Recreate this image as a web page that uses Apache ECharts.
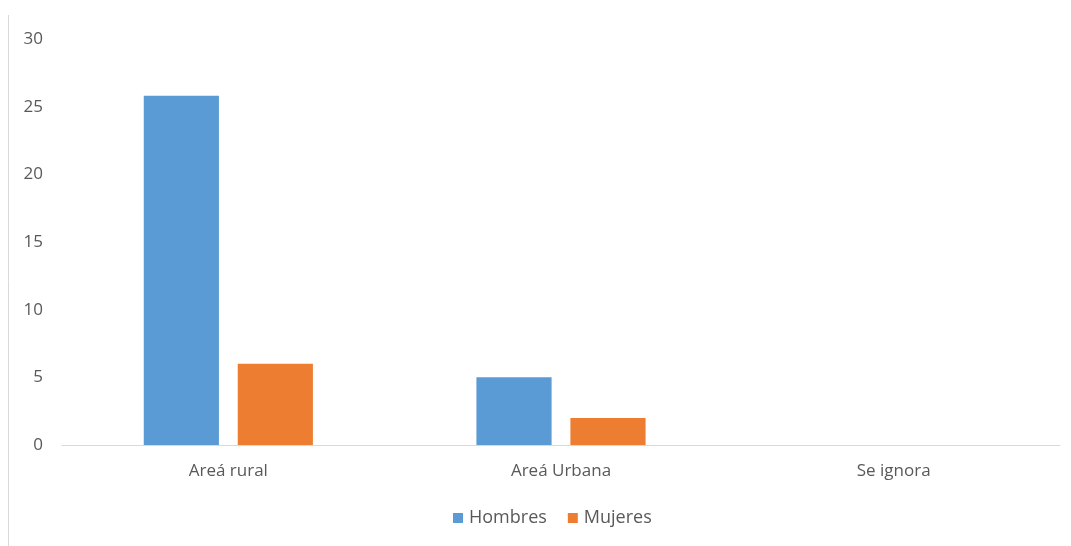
<!DOCTYPE html>
<html>
<head>
<meta charset="utf-8">
<script src="https://cdn.jsdelivr.net/npm/echarts@6/dist/echarts.min.js"></script>
<style>
  html, body { margin: 0; padding: 0; background: #fff; }
  #chart { width: 1071px; height: 546px; }
</style>
</head>
<body>
<div id="chart"></div>
<script>
// Categories and values
const categories = ['Areá rural', 'Areá Urbana', 'Se ignora'];
const hombres = [25.8, 5, 0];
const mujeres = [6, 2, 0];
const yTicks = { min: 0, max: 30, interval: 5 };

const textColor = '#595959';
const fontFamily = '"Open Sans", "Noto Sans", sans-serif';

const chart = echarts.init(document.getElementById('chart'));
chart.setOption({
  animation: false,
  backgroundColor: '#ffffff',
  grid: { left: 62, right: 11, top: 39, bottom: 101 },
  legend: {
    bottom: 14,
    left: 448,
    itemWidth: 10,
    itemHeight: 10,
    itemGap: 21,
    icon: 'rect',
    textStyle: { color: textColor, fontSize: 18, fontFamily: fontFamily, padding: [0, 0, 0, 1] },
    data: ['Hombres', 'Mujeres']
  },
  xAxis: {
    type: 'category',
    data: categories,
    axisLine: { show: true, lineStyle: { color: '#d9d9d9', width: 1 } },
    axisTick: { show: false },
    axisLabel: { color: textColor, fontSize: 17, fontFamily: fontFamily, margin: 18 }
  },
  yAxis: {
    type: 'value',
    min: yTicks.min,
    max: yTicks.max,
    interval: yTicks.interval,
    axisLine: { show: false },
    axisTick: { show: false },
    splitLine: { show: false },
    axisLabel: { color: textColor, fontSize: 17, fontFamily: fontFamily, margin: 19 }
  },
  graphic: [{
    type: 'line',
    shape: { x1: 8.5, y1: 15, x2: 8.5, y2: 546 },
    style: { stroke: '#d9d9d9', lineWidth: 1 },
    silent: true
  }],
  series: [
    {
      name: 'Hombres',
      type: 'bar',
      data: hombres,
      barWidth: '22.6%',
      barGap: '25%',
      itemStyle: { color: '#5B9BD5' }
    },
    {
      name: 'Mujeres',
      type: 'bar',
      data: mujeres,
      barWidth: '22.6%',
      itemStyle: { color: '#ED7D31' }
    }
  ]
});
</script>
</body>
</html>
